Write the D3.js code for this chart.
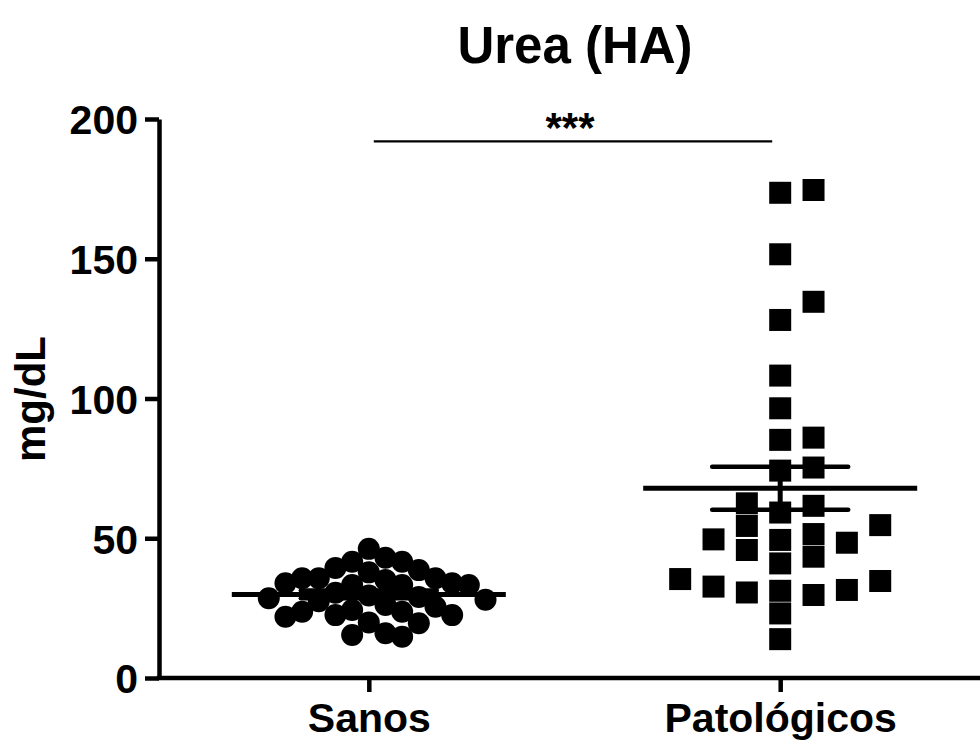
<!DOCTYPE html>
<html>
<head>
<meta charset="utf-8">
<script src="https://cdn.jsdelivr.net/npm/d3@7"></script>
<style>
  html, body { margin: 0; padding: 0; background: #fff; }
  svg { display: block; }
  text { font-family: "Liberation Sans", Arial, Helvetica, sans-serif; font-weight: bold; fill: #000; }
</style>
</head>
<body>
<svg id="chart" width="980" height="747"></svg>
<script>
// ---- data ----
const title = "Urea (HA)";
const yLabel = "mg/dL";
const categories = ["Sanos", "Patológicos"];
const sanos = [37.8, 33.3, 35.7, 35.1, 43.0, 39.4, 33.3, 41.6, 41.6, 46.2, 38.6, 33.9,
               35.7, 33.3, 35.7, 33.9, 22.5, 26.1, 19.9, 23.7, 16.0, 23.7, 14.8, 22.5,
               24.3, 19.6, 25.5, 21.9, 15.4, 30.5, 29.0, 28.0, 29.5, 28.5, 27.5];
const patologicos = [174.6, 173.6, 151.6, 134.6, 128.1, 108.2, 96.5, 86.0, 85.2, 75.3,
                     74.2, 62.5, 61.6, 59.2, 54.7, 54.4, 51.5, 49.6, 49.4, 48.4, 45.8,
                     43.4, 41.0, 35.4, 34.7, 32.7, 31.5, 31.2, 30.6, 29.7, 23.1, 13.9];
const yTicks = [0, 50, 100, 150, 200];
const sigLabel = "***";
const sigLevel = 192;

// ---- layout ----
const svg = d3.select("#chart");
const x = d3.scalePoint().domain(categories).range([159, 990]).padding(0.51);
const y = d3.scaleLinear().domain([0, 200]).range([678, 119]);
const axisW = 4.5;

// title
svg.append("text").attr("x", 575).attr("y", 63)
  .attr("text-anchor", "middle").style("font-size", "51px").text(title);

// y label
svg.append("text").attr("transform", "translate(45,399) rotate(-90)")
  .attr("text-anchor", "middle").style("font-size", "42px").text(yLabel);

// y axis
const gy = svg.append("g").attr("transform", "translate(159,0)")
  .call(d3.axisLeft(y).tickValues(yTicks).tickSize(14).tickSizeOuter(0).tickPadding(7));
gy.select(".domain").attr("stroke-width", axisW).attr("stroke", "#000");
gy.selectAll(".tick line").attr("stroke-width", axisW).attr("stroke", "#000");
gy.selectAll(".tick text").style("font-size", "41px").attr("dy", "0.36em").attr("fill", "#000");
gy.attr("font-family", null).attr("font-size", null);

// x axis
const gx = svg.append("g").attr("transform", "translate(0,678)")
  .call(d3.axisBottom(x).tickSize(14).tickSizeOuter(0).tickPadding(11));
gx.select(".domain").attr("stroke-width", axisW).attr("stroke", "#000")
  .attr("d", "M" + (159 - axisW / 2) + ",0H990");
gx.selectAll(".tick line").attr("stroke-width", axisW).attr("stroke", "#000");
gx.selectAll(".tick text").style("font-size", "41px").attr("fill", "#000");
gx.attr("font-family", null).attr("font-size", null);

// ---- beeswarm layout on a grid of half-steps ----
const step = 16.67;
function swarm(values, ascending, sameTh, adjTh) {
  const placed = [];
  const sorted = values.slice().sort((a, b) => ascending ? a - b : b - a);
  sorted.forEach(v => {
    const py = y(v);
    for (let i = 0; i < 200; i++) {
      const k = i === 0 ? 0 : (i % 2 ? (i + 1) / 2 : -i / 2);
      const clash = placed.some(p => {
        const dk = Math.abs(p.k - k), dy = Math.abs(p.py - py);
        return (dk === 0 && dy < sameTh) || (dk === 1 && dy < adjTh);
      });
      if (!clash) { placed.push({ v, k, py }); break; }
    }
  });
  return placed;
}

const groups = [
  { name: categories[0], values: sanos, symbol: d3.symbolCircle, size: Math.PI * 11 * 11, asc: false, sameTh: 22, adjTh: 0 },
  { name: categories[1], values: patologicos, symbol: d3.symbolSquare, size: 22 * 22, asc: true, sameTh: 22, adjTh: 22 }
];

groups.forEach(g => {
  const cx = x(g.name);
  const pts = swarm(g.values, g.asc, g.sameTh, g.adjTh);
  svg.append("g").selectAll("path").data(pts).join("path")
    .attr("d", d3.symbol().type(g.symbol).size(g.size))
    .attr("transform", d => `translate(${cx + d.k * step},${d.py})`)
    .attr("fill", "#000");

  const m = d3.mean(g.values);
  const sem = d3.deviation(g.values) / Math.sqrt(g.values.length);
  const gm = svg.append("g").attr("stroke", "#000").attr("fill", "none");
  gm.append("line").attr("x1", cx - 137).attr("x2", cx + 137)
    .attr("y1", y(m)).attr("y2", y(m)).attr("stroke-width", 5);
  gm.append("line").attr("x1", cx).attr("x2", cx)
    .attr("y1", y(m + sem)).attr("y2", y(m - sem)).attr("stroke-width", 5);
  [m + sem, m - sem].forEach(v => {
    gm.append("line").attr("x1", cx - 68).attr("x2", cx + 68)
      .attr("y1", y(v)).attr("y2", y(v)).attr("stroke-width", 4.5).attr("stroke-linecap", "round");
  });
});

// significance
const sx1 = x(categories[0]) + 5, sx2 = x(categories[1]) - 8;
svg.append("line").attr("x1", sx1).attr("x2", sx2)
  .attr("y1", y(sigLevel)).attr("y2", y(sigLevel))
  .attr("stroke", "#000").attr("stroke-width", 2.2);
svg.append("text").attr("x", (sx1 + sx2) / 2 - 3).attr("y", y(sigLevel) + 1)
  .attr("text-anchor", "middle").style("font-size", "42px").text(sigLabel);
</script>
</body>
</html>
